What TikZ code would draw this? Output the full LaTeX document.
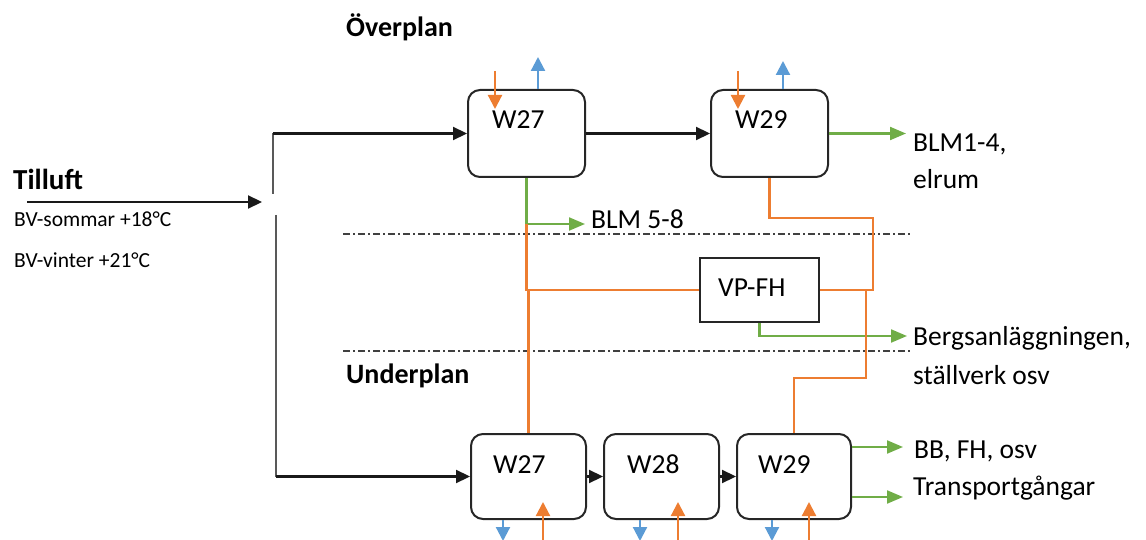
\documentclass[tikz,border=0pt]{standalone}
\usepackage{fontspec}
\setmainfont{Carlito}
\usetikzlibrary{arrows.meta}
\definecolor{orng}{HTML}{ED7D31}
\definecolor{blu}{HTML}{5B9BD5}
\definecolor{grn}{HTML}{70AD47}
\begin{document}
\begin{tikzpicture}[x=1pt,y=-1pt,
  box/.style={draw=black!85, line width=2pt, rounded corners=12pt, minimum width=117pt, minimum height=87pt, inner sep=0pt},
  lbox/.style={box, minimum width=115pt, minimum height=85pt},
  plainbox/.style={draw=black!85, line width=2pt, minimum width=119pt, minimum height=64pt, inner sep=0pt},
  lbl/.style={anchor=base west, inner sep=0pt, font=\fontsize{27.5}{32}\selectfont},
  hd/.style={anchor=base west, inner sep=0pt, font=\fontsize{28}{32}\selectfont\bfseries},
  small/.style={anchor=base west, inner sep=0pt, font=\fontsize{21.5}{25}\selectfont},
  blk/.style={draw=black!90, line width=2.2pt, -{Triangle[length=14pt,width=13pt]}},
  blkline/.style={draw=black!65, line width=2.4pt},
  grnarr/.style={draw=grn, line width=2.2pt, -{Triangle[length=16pt,width=13pt]}},
  grnline/.style={draw=grn, line width=2.2pt},
  orgline/.style={draw=orng, line width=2.2pt},
  orgarr/.style={draw=orng, line width=2.2pt, -{Triangle[length=14pt,width=14pt]}},
  bluarr/.style={draw=blu, line width=2.2pt, -{Triangle[length=14pt,width=14pt]}},
  sep/.style={draw=black!75, line width=1.8pt, dash pattern=on 7pt off 3pt on 2pt off 3pt}
]
\useasboundingbox (0,0) rectangle (1146,540);

% boxes
\node[box] (uW27) at (526.5,133.5) {};
\node[box] (uW29) at (769.5,133.5) {};
\node[lbox] (lW27) at (528.5,476.5) {};
\node[lbox] (lW28) at (661.5,476.5) {};
\node[lbox, minimum width=114pt] (lW29) at (794,476.5) {};
\node[plainbox] (vp) at (759.5,290) {};

% texts
\node[hd] (tover) at (346,37) {Överplan};
\node[hd] (tunder) at (346,383) {Underplan};
\node[hd, font=\fontsize{29}{33}\selectfont\bfseries] (ttill) at (13,190) {Tilluft};
\node[small] (tsom) at (14,227) {BV-sommar +18°C};
\node[small] (tvin) at (14,267) {BV-vinter +21°C};
\node[lbl] (tuw27) at (492,129) {W27};
\node[lbl] (tuw29) at (735,129) {W29};
\node[lbl] (tlw27) at (493,473) {W27};
\node[lbl] (tlw28) at (627,473) {W28};
\node[lbl] (tlw29) at (758,473) {W29};
\node[lbl] (tvp) at (718,296) {VP-FH};
\node[lbl] (tblm58) at (591,229) {BLM 5-8};
\node[lbl] (tblm14) at (913,152) {BLM1-4,};
\node[lbl] (telrum) at (913,189) {elrum};
\node[lbl] (tberg) at (913,345) {Bergsanläggningen,};
\node[lbl] (tstall) at (913,384) {ställverk osv};
\node[lbl] (tbb) at (914,458) {BB, FH, osv};
\node[lbl] (ttrans) at (913,495) {Transportgångar};

% separators
\coordinate (sepA1) at (343,234);
\coordinate (sepA2) at (912,234);
\coordinate (sepB1) at (343,351);
\coordinate (sepB2) at (912,351);
\draw[sep] (sepA1) -- (sepA2);
\draw[sep] (sepB1) -- (sepB2);

% supply air
\coordinate (tin) at (27,202);
\coordinate (tout) at (262,202);
\draw[blk] (tin) -- (tout);
\coordinate (s1) at (273,194);
\coordinate (s2) at (276,215);
\draw[blkline] (s1) -- (s1 |- uW27.west);
\draw[blk] (s1 |- uW27.west) -- (uW27.west);
\draw[blkline] (s2) -- (s2 |- lW27.west);
\draw[blk] (s2 |- lW27.west) -- (lW27.west);

% chains
\draw[blk] (uW27.east) -- (uW29.west);
\draw[blk] (lW27.east) -- (lW28.west);
\draw[blk] (lW28.east) -- (lW29.west);

% green outputs
\coordinate (g1) at (526.5,224);
\coordinate (g1e) at (585,224);
\draw[grnline] (uW27.south) -- (g1);
\draw[grnarr] (g1) -- (g1e);
\coordinate (g2) at (906,133.5);
\draw[grnarr] (uW29.east) -- (g2);
\coordinate (g3) at (907,336);
\draw[grnarr] (vp.south) -- (vp.south |- g3) -- (g3);
\coordinate (g4) at (903,447);
\coordinate (g5) at (903,497);
\draw[grnarr] (lW29.east |- g4) -- (g4);
\draw[grnarr] (lW29.east |- g5) -- (g5);

% orange heat pipes
\draw[orgline] (g1) -- (g1 |- vp.west) -- (vp.west);
\draw[orgline] (lW27.north |- vp.west) -- (lW27.north);
\coordinate (o2) at (873,218);
\draw[orgline] (uW29.south) -- (uW29.south |- o2) -- (o2) -- (o2 |- vp.east) -- (vp.east);
\coordinate (o3) at (866,378);
\draw[orgline] (o3 |- vp.east) -- (o3) -- (o3 -| lW29.north) -- (lW29.north);

% upper stubs
\coordinate (ou1s) at (495,71);
\coordinate (ou1e) at (495,109);
\draw[orgarr] (ou1s) -- (ou1e);
\coordinate (bu1) at (538,57);
\draw[bluarr] (uW27.north -| bu1) -- (bu1);
\coordinate (ou2s) at (738,71);
\coordinate (ou2e) at (738,109);
\draw[orgarr] (ou2s) -- (ou2e);
\coordinate (bu2) at (783,61);
\draw[bluarr] (uW29.north -| bu2) -- (bu2);

% lower stubs
\coordinate (bl1) at (503,541);
\coordinate (bl2) at (640,541);
\coordinate (bl3) at (772,541);
\draw[bluarr] (lW27.south -| bl1) -- (bl1);
\draw[bluarr] (lW28.south -| bl2) -- (bl2);
\draw[bluarr] (lW29.south -| bl3) -- (bl3);
\coordinate (ol1s) at (543,541);
\coordinate (ol1e) at (543,502);
\coordinate (ol2s) at (678,541);
\coordinate (ol2e) at (678,502);
\coordinate (ol3s) at (809,541);
\coordinate (ol3e) at (809,502);
\draw[orgarr] (ol1s) -- (ol1e);
\draw[orgarr] (ol2s) -- (ol2e);
\draw[orgarr] (ol3s) -- (ol3e);
\end{tikzpicture}
\end{document}
